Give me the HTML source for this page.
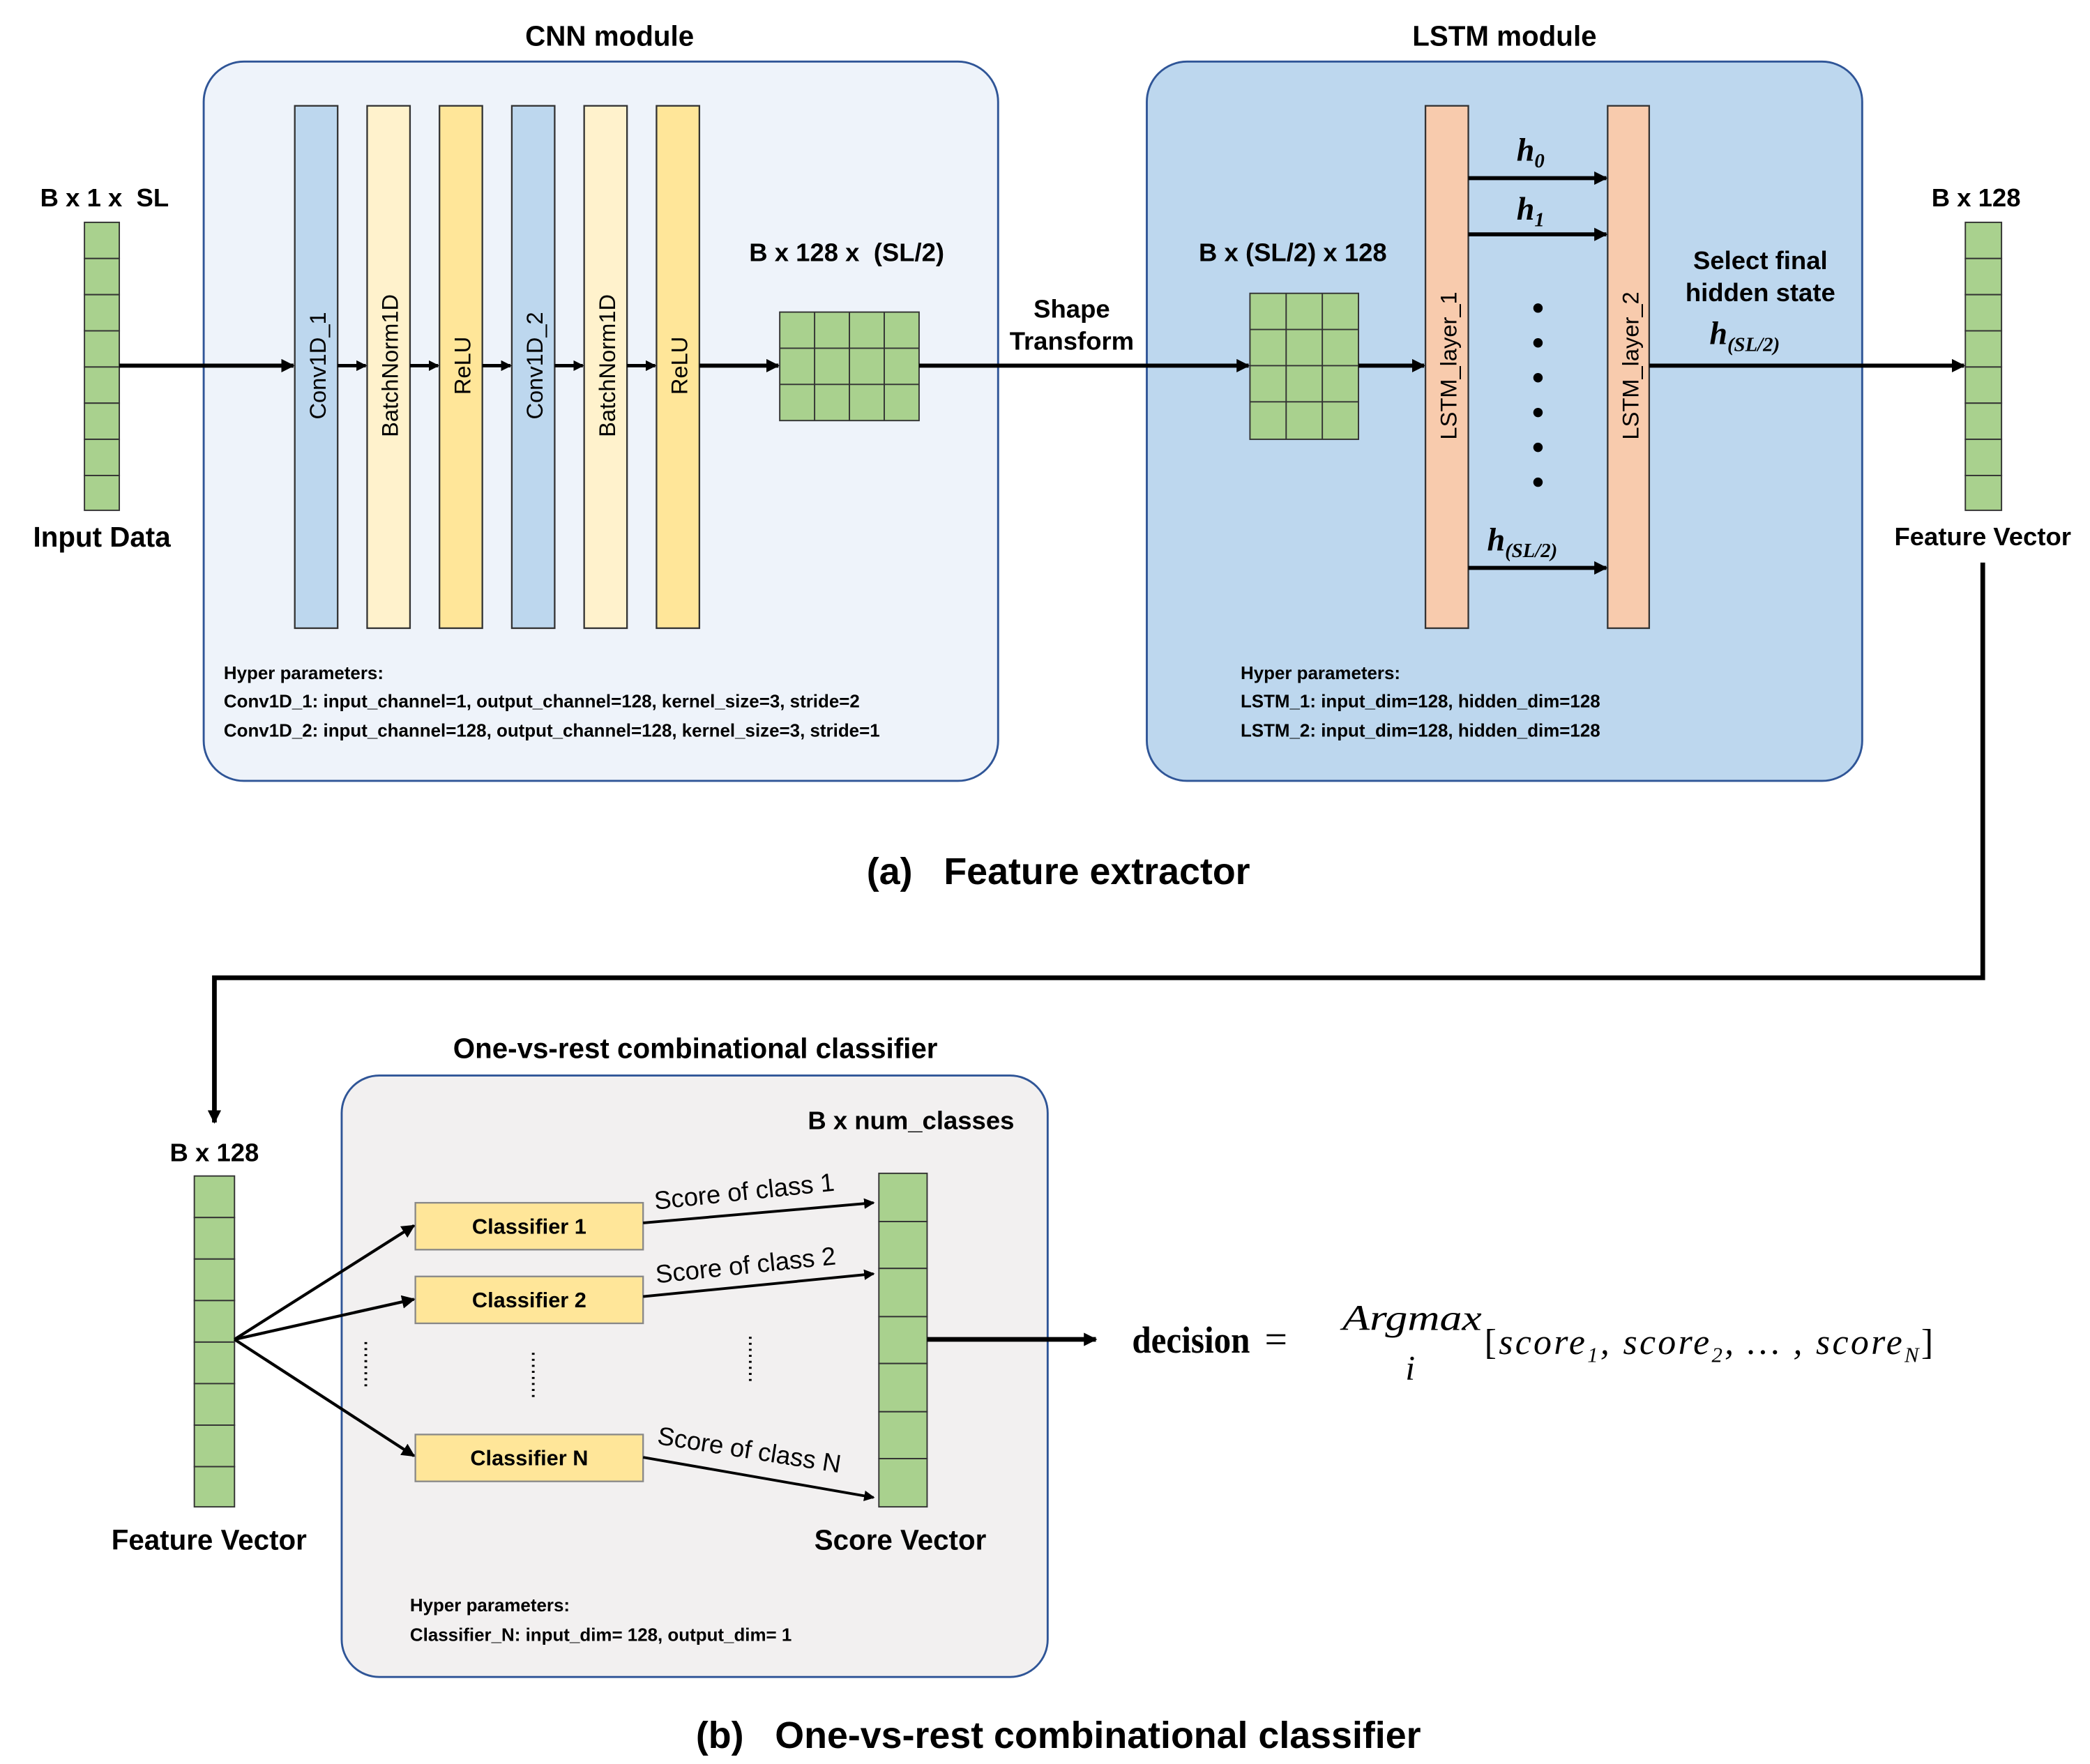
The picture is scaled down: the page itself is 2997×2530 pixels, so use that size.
<!DOCTYPE html>
<html><head><meta charset="utf-8"><style>
html,body{margin:0;padding:0;background:#fff}
svg{display:block}
text{font-family:"Liberation Sans",sans-serif;fill:#000;white-space:pre}
.b{font-weight:bold}
.m{font-family:"Liberation Serif",serif;font-style:italic}
</style></head><body>
<svg width="2997" height="2530" viewBox="0 0 1560 1317" xmlns="http://www.w3.org/2000/svg" xml:space="preserve">
<defs>
<marker id="a" markerWidth="10" markerHeight="10" refX="9" refY="5" orient="auto" markerUnits="userSpaceOnUse"><path d="M0,0 L10,5 L0,10 z" fill="#000"/></marker>
<marker id="s" markerWidth="8" markerHeight="8" refX="7" refY="4" orient="auto" markerUnits="userSpaceOnUse"><path d="M0,0 L8,4 L0,8 z" fill="#000"/></marker>
</defs>

<rect x="152" y="46" width="593" height="537" rx="30" fill="#eef3fa" stroke="#2f5597" stroke-width="1.5"/>
<rect x="856" y="46" width="534" height="537" rx="30" fill="#bdd7ee" stroke="#2f5597" stroke-width="1.5"/>
<text x="455" y="34" class="b" font-size="21" text-anchor="middle">CNN module</text>
<text x="1123" y="34" class="b" font-size="21" text-anchor="middle">LSTM module</text>

<g fill="#a9d18e" stroke="#333" stroke-width="1">
<rect x="63" y="166" width="26" height="27"/><rect x="63" y="193" width="26" height="27"/><rect x="63" y="220" width="26" height="27"/><rect x="63" y="247" width="26" height="27"/><rect x="63" y="274" width="26" height="27"/><rect x="63" y="301" width="26" height="27"/><rect x="63" y="328" width="26" height="27"/><rect x="63" y="355" width="26" height="26"/>
</g>
<text x="78" y="154" class="b" font-size="19" text-anchor="middle">B x 1 x  SL</text>
<text x="76" y="408" class="b" font-size="21" text-anchor="middle">Input Data</text>
<line x1="89" y1="273" x2="219" y2="273" stroke="#000" stroke-width="3" marker-end="url(#a)"/>

<g stroke="#333" stroke-width="1.2">
<rect x="220" y="79" width="32" height="390" fill="#bdd7ee"/>
<rect x="274" y="79" width="32" height="390" fill="#fff2cc"/>
<rect x="328" y="79" width="32" height="390" fill="#ffe699"/>
<rect x="382" y="79" width="32" height="390" fill="#bdd7ee"/>
<rect x="436" y="79" width="32" height="390" fill="#fff2cc"/>
<rect x="490" y="79" width="32" height="390" fill="#ffe699"/>
</g>
<g font-size="17">
<text transform="translate(243,273) rotate(-90)" text-anchor="middle">Conv1D_1</text>
<text transform="translate(297,273) rotate(-90)" text-anchor="middle">BatchNorm1D</text>
<text transform="translate(351,273) rotate(-90)" text-anchor="middle">ReLU</text>
<text transform="translate(405,273) rotate(-90)" text-anchor="middle">Conv1D_2</text>
<text transform="translate(459,273) rotate(-90)" text-anchor="middle">BatchNorm1D</text>
<text transform="translate(513,273) rotate(-90)" text-anchor="middle">ReLU</text>
</g>
<g stroke="#000" stroke-width="2.5" marker-end="url(#s)">
<line x1="252" y1="273" x2="273" y2="273"/><line x1="306" y1="273" x2="327" y2="273"/><line x1="360" y1="273" x2="381" y2="273"/><line x1="414" y1="273" x2="435" y2="273"/><line x1="468" y1="273" x2="489" y2="273"/>
</g>
<line x1="522" y1="273" x2="581" y2="273" stroke="#000" stroke-width="3" marker-end="url(#a)"/>

<rect x="582" y="233" width="104" height="81" fill="#a9d18e" stroke="#333"/>
<g stroke="#333" stroke-width="1">
<line x1="608" y1="233" x2="608" y2="314"/><line x1="634" y1="233" x2="634" y2="314"/><line x1="660" y1="233" x2="660" y2="314"/>
<line x1="582" y1="260" x2="686" y2="260"/><line x1="582" y1="287" x2="686" y2="287"/>
</g>
<text x="632" y="195" class="b" font-size="19" text-anchor="middle">B x 128 x  (SL/2)</text>

<line x1="686" y1="273" x2="932" y2="273" stroke="#000" stroke-width="3" marker-end="url(#a)"/>
<text x="800" y="237" class="b" font-size="19" text-anchor="middle">Shape</text>
<text x="800" y="261" class="b" font-size="19" text-anchor="middle">Transform</text>

<rect x="933" y="219" width="81" height="109" fill="#a9d18e" stroke="#333"/>
<g stroke="#333" stroke-width="1">
<line x1="960" y1="219" x2="960" y2="328"/><line x1="987" y1="219" x2="987" y2="328"/>
<line x1="933" y1="246" x2="1014" y2="246"/><line x1="933" y1="273" x2="1014" y2="273"/><line x1="933" y1="300" x2="1014" y2="300"/>
</g>
<text x="965" y="195" class="b" font-size="19" text-anchor="middle">B x (SL/2) x 128</text>
<line x1="1014" y1="273" x2="1063" y2="273" stroke="#000" stroke-width="3" marker-end="url(#a)"/>

<rect x="1064" y="79" width="32" height="390" fill="#f8cbad" stroke="#333" stroke-width="1.2"/>
<rect x="1200" y="79" width="31" height="390" fill="#f8cbad" stroke="#333" stroke-width="1.2"/>
<text transform="translate(1087,273) rotate(-90)" font-size="17" text-anchor="middle">LSTM_layer_1</text>
<text transform="translate(1223,273) rotate(-90)" font-size="17" text-anchor="middle">LSTM_layer_2</text>
<g stroke="#000" stroke-width="3" marker-end="url(#a)">
<line x1="1096" y1="133" x2="1199" y2="133"/><line x1="1096" y1="175" x2="1199" y2="175"/><line x1="1096" y1="424" x2="1199" y2="424"/>
</g>
<text x="1132" y="120" class="m b" font-size="24">h<tspan font-size="15" dy="5">0</tspan></text>
<text x="1132" y="164" class="m b" font-size="24">h<tspan font-size="15" dy="5">1</tspan></text>
<text x="1110" y="411" class="m b" font-size="24">h<tspan font-size="15" dy="5">(SL/2)</tspan></text>
<g fill="#000">
<circle cx="1148" cy="230" r="3.5"/><circle cx="1148" cy="256" r="3.5"/><circle cx="1148" cy="282" r="3.5"/><circle cx="1148" cy="308" r="3.5"/><circle cx="1148" cy="334" r="3.5"/><circle cx="1148" cy="360" r="3.5"/>
</g>
<text x="1314" y="201" class="b" font-size="19" text-anchor="middle">Select final</text>
<text x="1314" y="225" class="b" font-size="19" text-anchor="middle">hidden state</text>
<text x="1276" y="257" class="m b" font-size="24">h<tspan font-size="15" dy="5">(SL/2)</tspan></text>
<line x1="1231" y1="273" x2="1466" y2="273" stroke="#000" stroke-width="3" marker-end="url(#a)"/>

<g fill="#a9d18e" stroke="#333" stroke-width="1">
<rect x="1467" y="166" width="27" height="27"/><rect x="1467" y="193" width="27" height="27"/><rect x="1467" y="220" width="27" height="27"/><rect x="1467" y="247" width="27" height="27"/><rect x="1467" y="274" width="27" height="27"/><rect x="1467" y="301" width="27" height="27"/><rect x="1467" y="328" width="27" height="27"/><rect x="1467" y="355" width="27" height="26"/>
</g>
<text x="1475" y="154" class="b" font-size="19" text-anchor="middle">B x 128</text>
<text x="1480" y="407" class="b" font-size="19" text-anchor="middle">Feature Vector</text>

<g class="b" font-size="13.5">
<text x="167" y="507">Hyper parameters:</text>
<text x="167" y="528">Conv1D_1: input_channel=1, output_channel=128, kernel_size=3, stride=2</text>
<text x="167" y="550">Conv1D_2: input_channel=128, output_channel=128, kernel_size=3, stride=1</text>
<text x="926" y="507">Hyper parameters:</text>
<text x="926" y="528">LSTM_1: input_dim=128, hidden_dim=128</text>
<text x="926" y="550">LSTM_2: input_dim=128, hidden_dim=128</text>
</g>

<text x="790" y="660" class="b" font-size="28" text-anchor="middle">(a)   Feature extractor</text>

<polyline points="1480,420 1480,730 160,730 160,838" fill="none" stroke="#000" stroke-width="3.5" marker-end="url(#a)"/>

<rect x="255" y="803" width="527" height="449" rx="28" fill="#f2f0f0" stroke="#2f5597" stroke-width="1.5"/>
<text x="519" y="790" class="b" font-size="21" text-anchor="middle">One-vs-rest combinational classifier</text>
<text x="680" y="843" class="b" font-size="19" text-anchor="middle">B x num_classes</text>

<g fill="#a9d18e" stroke="#333" stroke-width="1">
<rect x="145" y="878" width="30" height="31"/><rect x="145" y="909" width="30" height="31"/><rect x="145" y="940" width="30" height="31"/><rect x="145" y="971" width="30" height="31"/><rect x="145" y="1002" width="30" height="31"/><rect x="145" y="1033" width="30" height="31"/><rect x="145" y="1064" width="30" height="31"/><rect x="145" y="1095" width="30" height="30"/>
</g>
<text x="160" y="867" class="b" font-size="19" text-anchor="middle">B x 128</text>
<text x="156" y="1157" class="b" font-size="21" text-anchor="middle">Feature Vector</text>

<g fill="#ffe699" stroke="#888" stroke-width="1.2">
<rect x="310" y="898" width="170" height="35"/><rect x="310" y="953" width="170" height="35"/><rect x="310" y="1071" width="170" height="35"/>
</g>
<g class="b" font-size="16" text-anchor="middle">
<text x="395" y="921">Classifier 1</text><text x="395" y="976">Classifier 2</text><text x="395" y="1094">Classifier N</text>
</g>
<g stroke="#000" stroke-width="2.2" marker-end="url(#a)">
<line x1="175" y1="1000" x2="309" y2="915"/><line x1="175" y1="1000" x2="309" y2="970"/><line x1="175" y1="1000" x2="309" y2="1087"/>
</g>

<g fill="#a9d18e" stroke="#333" stroke-width="1">
<rect x="656" y="876" width="36" height="36"/><rect x="656" y="912" width="36" height="35"/><rect x="656" y="947" width="36" height="36"/><rect x="656" y="983" width="36" height="35"/><rect x="656" y="1018" width="36" height="36"/><rect x="656" y="1054" width="36" height="35"/><rect x="656" y="1089" width="36" height="36"/>
</g>
<text x="672" y="1157" class="b" font-size="21" text-anchor="middle">Score Vector</text>

<g stroke="#000" stroke-width="2" marker-end="url(#s)">
<line x1="480" y1="913" x2="652" y2="898"/><line x1="480" y1="968" x2="652" y2="951"/><line x1="480" y1="1088" x2="652" y2="1118"/>
</g>
<g font-size="19">
<text transform="translate(489,903) rotate(-6)">Score of class 1</text>
<text transform="translate(490,958) rotate(-6)">Score of class 2</text>
<text transform="translate(490,1078) rotate(9)">Score of class N</text>
</g>
<g stroke="#000" stroke-width="2" stroke-dasharray="1.5,3">
<line x1="273" y1="1002" x2="273" y2="1036"/><line x1="398" y1="1010" x2="398" y2="1045"/><line x1="560" y1="998" x2="560" y2="1033"/>
</g>

<line x1="692" y1="1000" x2="818" y2="1000" stroke="#000" stroke-width="3.5" marker-end="url(#a)"/>
<text x="845" y="1010" font-weight="bold" font-size="28" style="font-family:'Liberation Serif',serif" textLength="88" lengthAdjust="spacingAndGlyphs">decision</text>
<text x="944" y="1010" font-size="30" style="font-family:'Liberation Serif',serif">=</text>
<text x="1002" y="993" class="m" font-size="27" textLength="104" lengthAdjust="spacingAndGlyphs">Argmax</text>
<text x="1049" y="1030" class="m" font-size="26">i</text>
<text x="1108" y="1011" class="m" font-size="27" textLength="335" lengthAdjust="spacing"><tspan font-style="normal">[</tspan>score<tspan font-size="16" dy="6">1</tspan><tspan dy="-6">, score</tspan><tspan font-size="16" dy="6">2</tspan><tspan dy="-6">, … , score</tspan><tspan font-size="16" dy="6">N</tspan><tspan dy="-6" font-style="normal">]</tspan></text>

<g class="b" font-size="13.5">
<text x="306" y="1203">Hyper parameters:</text>
<text x="306" y="1225">Classifier_N: input_dim= 128, output_dim= 1</text>
</g>

<text x="790" y="1305" class="b" font-size="28" text-anchor="middle">(b)   One-vs-rest combinational classifier</text>
</svg>
</body></html>
